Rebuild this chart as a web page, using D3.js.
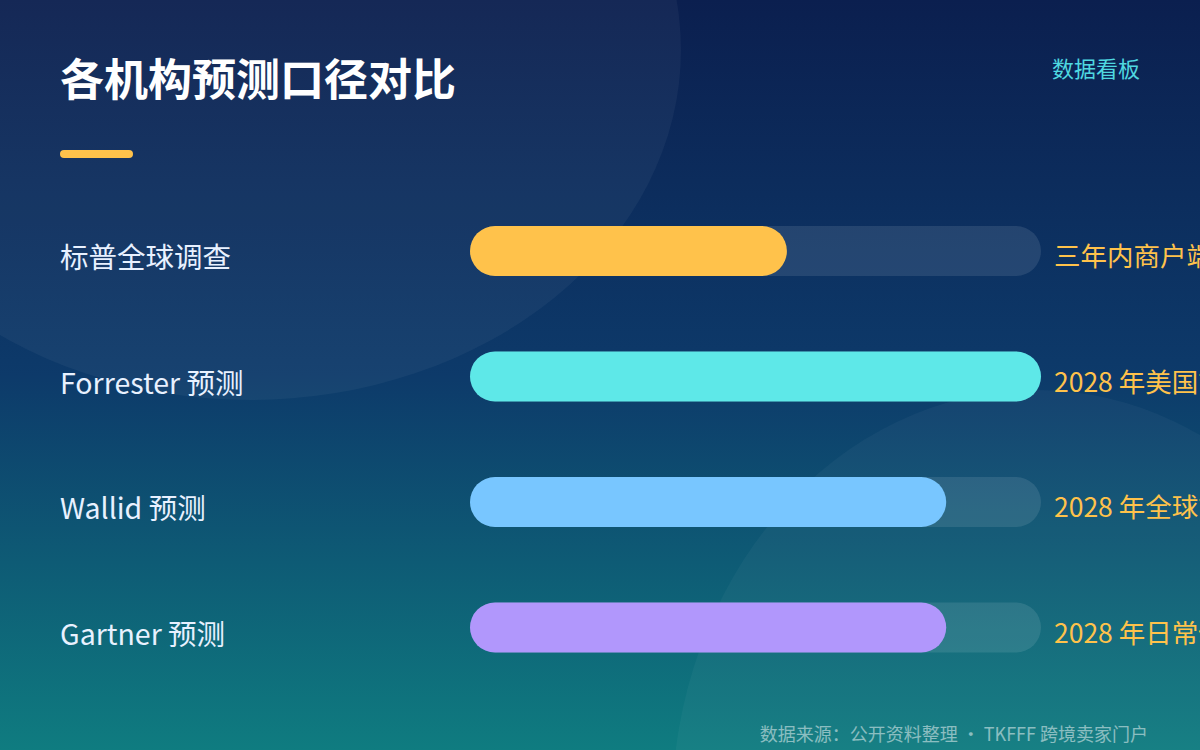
<!DOCTYPE html>
<html>
<head>
<meta charset="utf-8">
<script src="https://cdn.jsdelivr.net/npm/d3@7/dist/d3.min.js"></script>
<style>
  html, body { margin: 0; padding: 0; width: 1200px; height: 750px; overflow: hidden; background: #0b1f4f; }
  svg { display: block; }
  text { font-family: "Noto Sans CJK SC", "Noto Sans", sans-serif; }
</style>
</head>
<body>
<svg id="chart" width="1200" height="750"></svg>
<script>
const title = "各机构预测口径对比";
const badge = "数据看板";
const footer = "数据来源：公开资料整理 · TKFFF 跨境卖家门户";
const categories = ["标普全球调查", "Forrester 预测", "Wallid 预测", "Gartner 预测"];
const values = [55.5, 100, 83.4, 83.4];
const valueLabels = ["三年内商户端采用率", "2028 年美国市场规模", "2028 年全球市场规模", "2028 年日常使用率"];
const barColors = ["#FFC24B", "#5EE8E8", "#78C6FF", "#B197FC"];
const domainMax = 100;

const W = 1200, H = 750;
const svg = d3.select("#chart");
const defs = svg.append("defs");
const grad = defs.append("linearGradient").attr("id", "bg").attr("x1", 0).attr("y1", 0).attr("x2", 0).attr("y2", 1);
grad.append("stop").attr("offset", "0%").attr("stop-color", "#0b1f4f");
grad.append("stop").attr("offset", "50%").attr("stop-color", "#0d3a6a");
grad.append("stop").attr("offset", "100%").attr("stop-color", "#0f7c80");

svg.append("rect").attr("width", W).attr("height", H).attr("fill", "url(#bg)");
svg.append("ellipse").attr("cx", 250).attr("cy", 50).attr("rx", 431).attr("ry", 350)
  .attr("fill", "#ffffff").attr("fill-opacity", 0.045);
svg.append("ellipse").attr("cx", 1036).attr("cy", 810).attr("rx", 364).attr("ry", 420)
  .attr("fill", "#ffffff").attr("fill-opacity", 0.035);

// Title
svg.append("text").attr("x", 60).attr("y", 96).attr("fill", "#ffffff")
  .attr("font-size", 44).attr("font-weight", 700).text(title);
svg.append("rect").attr("x", 60).attr("y", 150).attr("width", 73).attr("height", 8)
  .attr("rx", 4).attr("fill", "#FFC24B");
svg.append("text").attr("x", 1140).attr("y", 77).attr("text-anchor", "end")
  .attr("fill", "#4fd8e0").attr("font-size", 22).text(badge);

// Scales
const x = d3.scaleLinear().domain([0, domainMax]).range([470, 1041]);
const y = d3.scalePoint().domain(categories).range([251, 627.5]);
const barH = 50;

const rows = svg.append("g").selectAll("g").data(categories).join("g");

rows.append("text").attr("x", 60).attr("y", d => y(d) + 17)
  .attr("fill", "#e8f1ff").attr("font-size", 28.5).text(d => d);

rows.append("rect").attr("x", x(0)).attr("y", d => y(d) - barH / 2)
  .attr("width", x(domainMax) - x(0)).attr("height", barH)
  .attr("rx", barH / 2).attr("fill", "#ffffff").attr("fill-opacity", 0.1);

rows.append("rect").attr("x", x(0)).attr("y", d => y(d) - barH / 2)
  .attr("width", (d, i) => x(values[i]) - x(0)).attr("height", barH)
  .attr("rx", barH / 2).attr("fill", (d, i) => barColors[i]);

rows.append("text").attr("x", x(domainMax) + 13).attr("y", d => y(d) + 15)
  .attr("fill", "#FFC24B").attr("font-size", 26.5).text((d, i) => valueLabels[i]);

svg.append("text").attr("x", 1148).attr("y", 741).attr("text-anchor", "end")
  .attr("fill", "#ffffff").attr("fill-opacity", 0.5).attr("font-size", 18).text(footer);
</script>
</body>
</html>
